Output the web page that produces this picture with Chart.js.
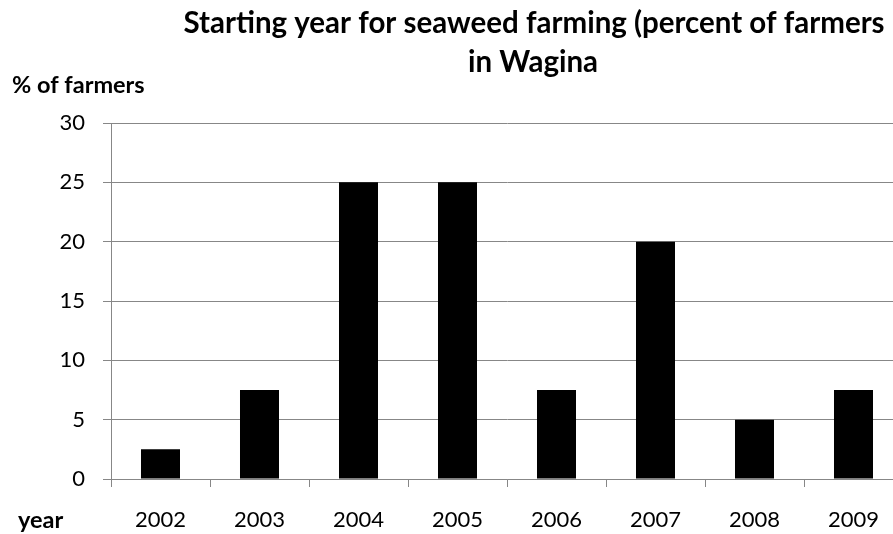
<!DOCTYPE html>
<html>
<head>
<meta charset="utf-8">
<script src="https://cdn.jsdelivr.net/npm/chart.js@4.4.1/dist/chart.umd.min.js"></script>
<style>
  html, body { margin: 0; padding: 0; background: #fff; overflow: hidden; }
  #wrap { width: 905px; height: 534px; }
</style>
</head>
<body>
<div id="wrap"><canvas id="chart" width="905" height="534"></canvas></div>
<script>
// data
const years = ['2002', '2003', '2004', '2005', '2006', '2007', '2008', '2009'];
const farmerShare = [2.5, 7.5, 25, 25, 7.5, 20, 5, 7.5];
const yTicks = [0, 5, 10, 15, 20, 25, 30];
const titleLines = ['Starting year for seaweed farming (percent of farmers', 'in Wagina'];
const yAxisLabel = '% of farmers';
const xAxisLabel = 'year';

const FONT = "Lato, 'Open Sans', sans-serif";
const GRID = '#878787';

// title and the two axis captions sit outside the plot, so draw them by hand
const extraText = {
  id: 'extraText',
  afterDraw(chart) {
    const ctx = chart.ctx;
    ctx.save();
    ctx.fillStyle = '#000';
    ctx.textBaseline = 'alphabetic';
    ctx.font = 'bold 29.5px ' + FONT;
    ctx.textAlign = 'center';
    ctx.fillText(titleLines[0], 534, 33);
    ctx.fillText(titleLines[1], 533, 72);
    ctx.font = 'bold 23.5px ' + FONT;
    ctx.textAlign = 'left';
    ctx.fillText(yAxisLabel, 12, 93);
    ctx.fillText(xAxisLabel, 18, 528);
    ctx.restore();
  }
};

const ctx = document.getElementById('chart').getContext('2d');
new Chart(ctx, {
  type: 'bar',
  data: {
    labels: years,
    datasets: [{
      data: farmerShare,
      backgroundColor: '#000',
      borderWidth: 0,
      barPercentage: 0.394,
      categoryPercentage: 1.0
    }]
  },
  options: {
    responsive: false,
    animation: false,
    devicePixelRatio: 1,
    layout: { padding: { top: 123, right: 2, left: 0, bottom: 0 } },
    plugins: {
      legend: { display: false },
      tooltip: { enabled: false },
      title: { display: false }
    },
    scales: {
      x: {
        type: 'category',
        grid: {
          offset: true,
          drawOnChartArea: false,
          drawTicks: true,
          tickLength: 8,
          color: GRID
        },
        border: { color: GRID, width: 1 },
        ticks: {
          color: '#000',
          font: { family: FONT, size: 22 },
          padding: 20,
          maxRotation: 0,
          autoSkip: false
        },
        afterFit(scale) { scale.height = 55; }
      },
      y: {
        min: 0,
        max: 30,
        afterBuildTicks(scale) { scale.ticks = yTicks.map(v => ({ value: v })); },
        grid: {
          color: GRID,
          tickLength: 8,
          lineWidth: 1
        },
        border: { color: GRID, width: 1 },
        ticks: {
          color: '#000',
          font: { family: FONT, size: 22 },
          padding: 18
        },
        afterFit(scale) { scale.width = 111; }
      }
    }
  },
  plugins: [extraText]
});
</script>
</body>
</html>
